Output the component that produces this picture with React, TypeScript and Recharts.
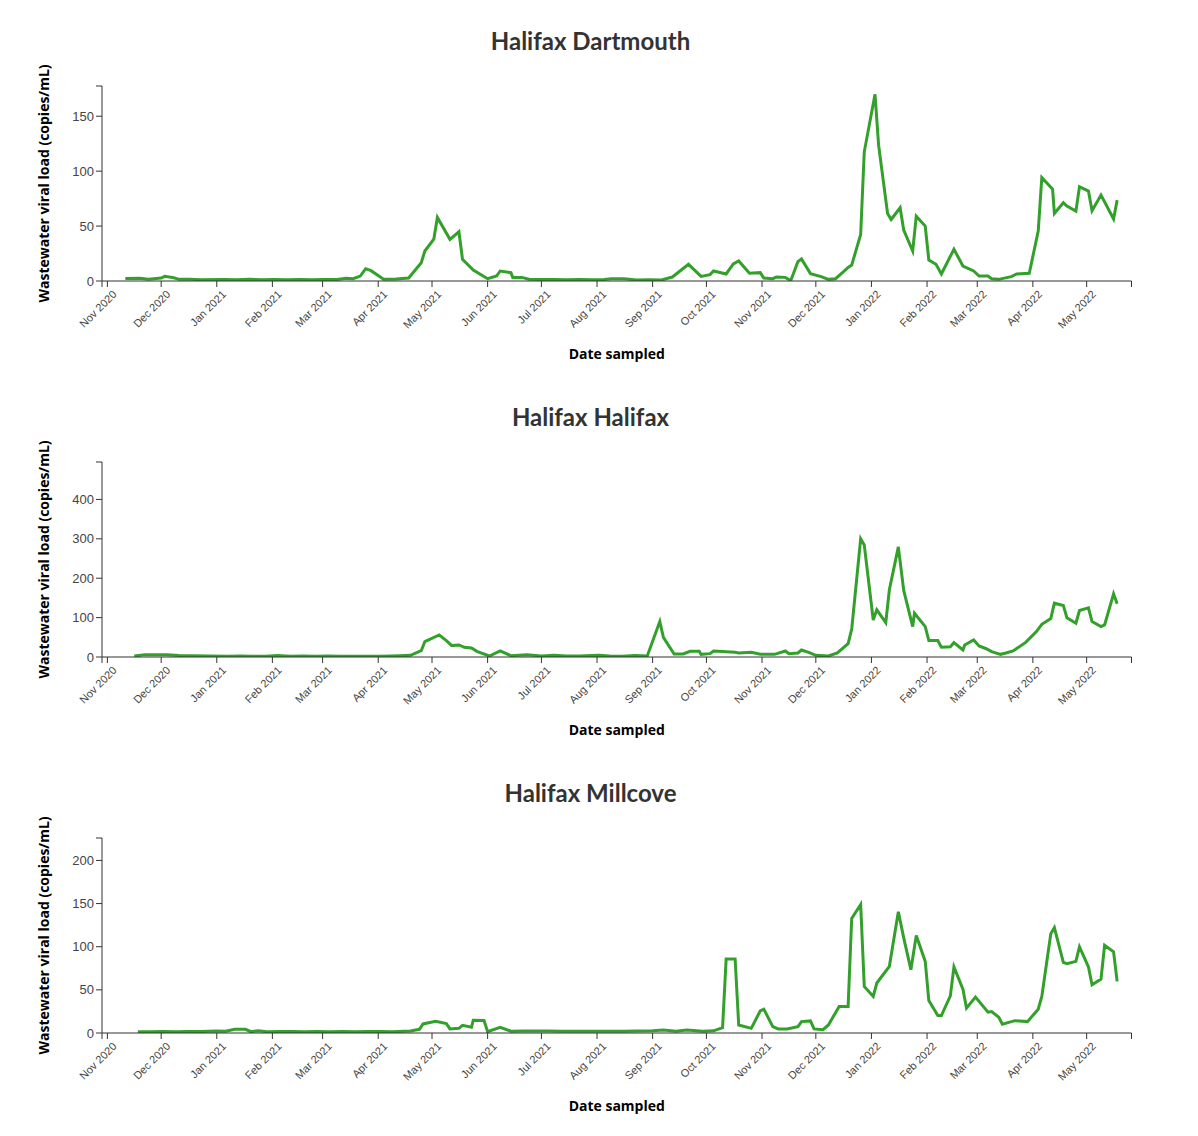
import React from 'react';
import { LineChart, Line, XAxis, YAxis } from 'recharts';

const dartmouth: [string, number][] = [
  ['2020-11-11', 2.2], ['2020-11-19', 2.4], ['2020-11-24', 1.5], ['2020-12-01', 2.7],
  ['2020-12-03', 4.2], ['2020-12-08', 3.0], ['2020-12-11', 1.5], ['2020-12-17', 1.6],
  ['2020-12-23', 1.2], ['2021-01-05', 1.3], ['2021-01-12', 1.2], ['2021-01-19', 1.5],
  ['2021-01-26', 1.2], ['2021-02-02', 1.4], ['2021-02-09', 1.1], ['2021-02-16', 1.3],
  ['2021-02-23', 1.2], ['2021-03-02', 1.4], ['2021-03-09', 1.3], ['2021-03-14', 2.4],
  ['2021-03-18', 2.1], ['2021-03-22', 4.5], ['2021-03-25', 11.2], ['2021-03-28', 9.4],
  ['2021-04-04', 1.5], ['2021-04-11', 1.8], ['2021-04-18', 2.7], ['2021-04-25', 16.7],
  ['2021-04-27', 27.3], ['2021-05-02', 38], ['2021-05-04', 57.9], ['2021-05-11', 37.9],
  ['2021-05-16', 44.8], ['2021-05-18', 19.7], ['2021-05-24', 10], ['2021-06-01', 2.1],
  ['2021-06-06', 4.5], ['2021-06-08', 9.1], ['2021-06-14', 7.6], ['2021-06-15', 3.3],
  ['2021-06-20', 3.3], ['2021-06-24', 1.6], ['2021-07-01', 1.3], ['2021-07-08', 1.4],
  ['2021-07-15', 1.2], ['2021-07-22', 1.3], ['2021-07-29', 1.2], ['2021-08-05', 1.4],
  ['2021-08-09', 2.1], ['2021-08-16', 2.1], ['2021-08-23', 1.0], ['2021-08-30', 1.2],
  ['2021-09-06', 1.0], ['2021-09-12', 3.6], ['2021-09-21', 15.2], ['2021-09-28', 4.2],
  ['2021-10-03', 5.8], ['2021-10-05', 9.1], ['2021-10-12', 6.4], ['2021-10-16', 15.5],
  ['2021-10-19', 18.2], ['2021-10-25', 7.0], ['2021-10-31', 7.6], ['2021-11-02', 2.7],
  ['2021-11-07', 2.1], ['2021-11-09', 3.6], ['2021-11-14', 3.3], ['2021-11-17', 0.3],
  ['2021-11-21', 17.6], ['2021-11-23', 20], ['2021-11-28', 6.7], ['2021-12-04', 4],
  ['2021-12-08', 1.5], ['2021-12-12', 2.1], ['2021-12-16', 7.9], ['2021-12-19', 12.4],
  ['2021-12-21', 14.5], ['2021-12-26', 42.4], ['2021-12-28', 117.6], ['2022-01-03', 170],
  ['2022-01-05', 123.6], ['2022-01-10', 61.5], ['2022-01-12', 56], ['2022-01-17', 66.7],
  ['2022-01-19', 46.4], ['2022-01-24', 27.3], ['2022-01-26', 59], ['2022-01-31', 50],
  ['2022-02-02', 19], ['2022-02-06', 15.2], ['2022-02-09', 6.4], ['2022-02-16', 29],
  ['2022-02-21', 13.6], ['2022-02-27', 9.1], ['2022-03-02', 4.5], ['2022-03-07', 4.5],
  ['2022-03-09', 2.1], ['2022-03-13', 1.5], ['2022-03-20', 4], ['2022-03-23', 6.4],
  ['2022-03-30', 7], ['2022-04-04', 45.5], ['2022-04-06', 94.2], ['2022-04-12', 83.6],
  ['2022-04-13', 61.5], ['2022-04-18', 71.2], ['2022-04-20', 68.2], ['2022-04-25', 63.6],
  ['2022-04-27', 85.8], ['2022-05-02', 81.8], ['2022-05-04', 63.9], ['2022-05-09', 78.2],
  ['2022-05-16', 56.4], ['2022-05-18', 73.6],
];

const halifax: [string, number][] = [
  ['2020-11-16', 2.5], ['2020-11-22', 6], ['2020-12-04', 6], ['2020-12-11', 4],
  ['2020-12-18', 3], ['2020-12-28', 2.5], ['2021-01-07', 2], ['2021-01-14', 2.5],
  ['2021-01-21', 2], ['2021-01-28', 2.2], ['2021-02-04', 3.5], ['2021-02-11', 2],
  ['2021-02-18', 2.5], ['2021-02-25', 2], ['2021-03-04', 2.3], ['2021-03-11', 2],
  ['2021-03-18', 2.2], ['2021-03-25', 2], ['2021-04-01', 2.2], ['2021-04-08', 2.5],
  ['2021-04-13', 3], ['2021-04-19', 4.2], ['2021-04-25', 16], ['2021-04-27', 39],
  ['2021-05-05', 56], ['2021-05-09', 41.6], ['2021-05-12', 29], ['2021-05-16', 30.6],
  ['2021-05-19', 24.6], ['2021-05-23', 23], ['2021-05-26', 14.4], ['2021-06-02', 2.5],
  ['2021-06-08', 15.3], ['2021-06-14', 3.4], ['2021-06-23', 6], ['2021-07-01', 2.5],
  ['2021-07-08', 4.2], ['2021-07-15', 2.5], ['2021-07-22', 2.5], ['2021-08-02', 4.2],
  ['2021-08-08', 2.5], ['2021-08-15', 2.2], ['2021-08-22', 4], ['2021-08-29', 2.5],
  ['2021-09-05', 90], ['2021-09-07', 50], ['2021-09-13', 7.6], ['2021-09-18', 7.6],
  ['2021-09-22', 14.4], ['2021-09-27', 14.4], ['2021-09-28', 6.8], ['2021-10-03', 8.5],
  ['2021-10-05', 15.3], ['2021-10-17', 11.9], ['2021-10-19', 10.2], ['2021-10-26', 11.9],
  ['2021-10-31', 6.8], ['2021-11-08', 6.8], ['2021-11-14', 15.3], ['2021-11-16', 8.5],
  ['2021-11-21', 10.2], ['2021-11-23', 17.8], ['2021-11-27', 11.9], ['2021-12-01', 4.2],
  ['2021-12-08', 2.5], ['2021-12-13', 10.2], ['2021-12-19', 34], ['2021-12-21', 70.5],
  ['2021-12-26', 300], ['2021-12-28', 284.5], ['2022-01-02', 94], ['2022-01-04', 119.7],
  ['2022-01-09', 87.5], ['2022-01-11', 170.7], ['2022-01-16', 279.5], ['2022-01-19', 169],
  ['2022-01-24', 77.3], ['2022-01-25', 111], ['2022-01-31', 77], ['2022-02-02', 41.6],
  ['2022-02-07', 41.6], ['2022-02-09', 24.6], ['2022-02-14', 26], ['2022-02-16', 36.5],
  ['2022-02-21', 17.8], ['2022-02-22', 30.6], ['2022-02-27', 43.3], ['2022-03-02', 28],
  ['2022-03-06', 21], ['2022-03-09', 13.6], ['2022-03-14', 6.8], ['2022-03-17', 10.2],
  ['2022-03-21', 15.3], ['2022-03-28', 37], ['2022-04-03', 64.5], ['2022-04-06', 83],
  ['2022-04-11', 97.6], ['2022-04-13', 136.6], ['2022-04-18', 130.8], ['2022-04-20', 99.4],
  ['2022-04-25', 85.8], ['2022-04-27', 118], ['2022-05-02', 124.8], ['2022-05-04', 90],
  ['2022-05-09', 77.3], ['2022-05-11', 81.5], ['2022-05-16', 160.5], ['2022-05-18', 135],
];

const millcove: [string, number][] = [
  ['2020-11-18', 1.5], ['2020-11-25', 1.5], ['2020-12-02', 1.6], ['2020-12-09', 1.5],
  ['2020-12-16', 1.7], ['2020-12-23', 1.6], ['2021-01-01', 2.3], ['2021-01-06', 2.0],
  ['2021-01-11', 4.3], ['2021-01-17', 4.3], ['2021-01-20', 1.5], ['2021-01-24', 2.7],
  ['2021-01-29', 1.5], ['2021-02-05', 1.6], ['2021-02-12', 1.8], ['2021-02-19', 1.5],
  ['2021-02-26', 1.7], ['2021-03-05', 1.5], ['2021-03-12', 1.6], ['2021-03-19', 1.5],
  ['2021-03-26', 1.7], ['2021-04-02', 1.6], ['2021-04-09', 1.5], ['2021-04-19', 2.3],
  ['2021-04-24', 4.3], ['2021-04-26', 10.5], ['2021-05-03', 13.6], ['2021-05-09', 10.9],
  ['2021-05-11', 4.7], ['2021-05-16', 5.4], ['2021-05-18', 8.9], ['2021-05-23', 6.6],
  ['2021-05-24', 14.8], ['2021-05-30', 14.4], ['2021-06-01', 1.5], ['2021-06-08', 6.6],
  ['2021-06-14', 2], ['2021-06-21', 2.2], ['2021-06-28', 2.4], ['2021-07-05', 2.2],
  ['2021-07-12', 2], ['2021-07-19', 2.1], ['2021-07-26', 2], ['2021-08-02', 2.1],
  ['2021-08-09', 2], ['2021-08-16', 2], ['2021-08-23', 2.2], ['2021-09-01', 2.7],
  ['2021-09-07', 3.5], ['2021-09-14', 2], ['2021-09-20', 3.5], ['2021-09-29', 2],
  ['2021-10-05', 2.5], ['2021-10-10', 6.2], ['2021-10-12', 85.9], ['2021-10-17', 85.9],
  ['2021-10-19', 9.3], ['2021-10-26', 5.4], ['2021-10-31', 25.6], ['2021-11-02', 27.6],
  ['2021-11-07', 7.4], ['2021-11-10', 4.7], ['2021-11-15', 4.7], ['2021-11-21', 7.4],
  ['2021-11-23', 13.2], ['2021-11-28', 14], ['2021-11-30', 4.7], ['2021-12-05', 3.9],
  ['2021-12-08', 9.3], ['2021-12-14', 30.7], ['2021-12-19', 30.7], ['2021-12-21', 132.8],
  ['2021-12-26', 149], ['2021-12-28', 54], ['2022-01-02', 42.3], ['2022-01-04', 57.9],
  ['2022-01-11', 77.3], ['2022-01-16', 140.6], ['2022-01-19', 110.3], ['2022-01-23', 73.4],
  ['2022-01-26', 113], ['2022-01-31', 83], ['2022-02-02', 37.6], ['2022-02-07', 20.2],
  ['2022-02-09', 20.2], ['2022-02-14', 43.1], ['2022-02-16', 76.5], ['2022-02-21', 50.9],
  ['2022-02-23', 28.8], ['2022-02-28', 41.6], ['2022-03-07', 24.1], ['2022-03-09', 24.9],
  ['2022-03-13', 18.3], ['2022-03-15', 10.1], ['2022-03-22', 14.3], ['2022-03-29', 13.2],
  ['2022-04-04', 27.6], ['2022-04-06', 42.3], ['2022-04-11', 115], ['2022-04-13', 122],
  ['2022-04-18', 81.9], ['2022-04-20', 80.4], ['2022-04-25', 83], ['2022-04-27', 99.8],
  ['2022-05-02', 76.5], ['2022-05-04', 55.9], ['2022-05-09', 62.5], ['2022-05-11', 101.7],
  ['2022-05-16', 94], ['2022-05-18', 59.8],
];

const monthTicks = [
  '2020-11-01', '2020-12-01', '2021-01-01', '2021-02-01', '2021-03-01', '2021-04-01',
  '2021-05-01', '2021-06-01', '2021-07-01', '2021-08-01', '2021-09-01', '2021-10-01',
  '2021-11-01', '2021-12-01', '2022-01-01', '2022-02-01', '2022-03-01', '2022-04-01',
  '2022-05-01',
];
const monthNames = ['Jan', 'Feb', 'Mar', 'Apr', 'May', 'Jun', 'Jul', 'Aug', 'Sep', 'Oct', 'Nov', 'Dec'];

const xStart = Date.parse('2020-10-29');
const xEnd = Date.parse('2022-05-26');

const GREEN = '#33a02c';
const AXIS = '#333';
const TICK_FONT = '"Liberation Sans", Arial, sans-serif';
const LABEL_FONT = '"Open Sans", sans-serif';

const fmtMonth = (t: number) => {
  const d = new Date(t);
  return `${monthNames[d.getUTCMonth()]} ${d.getUTCFullYear()}`;
};

function XTick(props: any) {
  const { x, y, payload } = props;
  if (payload.value === xStart || payload.value === xEnd) return <g />;
  const ax = x + 10;
  const ay = y + 6;
  return (
    <text x={ax} y={ay} transform={`rotate(-45 ${ax} ${ay})`} textAnchor='end'
      fontSize={11} fill='#444' fontFamily={TICK_FONT}>
      {fmtMonth(payload.value)}
    </text>
  );
}

function YTick(props: any) {
  const { x, y, payload, top } = props;
  if (payload.value === top) return <g />;
  return (
    <text x={x} y={y} dy='0.355em' textAnchor='end' fontSize={13} fill='#444' fontFamily={TICK_FONT}>
      {payload.value}
    </text>
  );
}

function YTitle(props: any) {
  const vb = props.viewBox || {};
  const x = vb.x + 6.5;
  const y = vb.y + vb.height / 2;
  return (
    <text x={x} y={y} transform={`rotate(-90 ${x} ${y})`} textAnchor='middle'
      fontSize={14} fontWeight={700} fill='#000' fontFamily={LABEL_FONT}>
      Wastewater viral load (copies/mL)
    </text>
  );
}

function XTitle(props: any) {
  const vb = props.viewBox || {};
  return (
    <text x={vb.x + vb.width / 2} y={vb.y + 78} textAnchor='middle'
      fontSize={14} fontWeight={700} fill='#000' fontFamily={LABEL_FONT}>
      Date sampled
    </text>
  );
}

function SitePanel({ title, series, yTop, yTicks }: {
  title: string; series: [string, number][]; yTop: number; yTicks: number[];
}) {
  const data = series.map(([d, v]) => ({ t: Date.parse(d), v }));
  const xTicks = [xStart, ...monthTicks.map((m) => Date.parse(m)), xEnd];
  return (
    <div style={{ position: 'relative', width: 1165, height: 376 }}>
      <div style={{
        position: 'absolute', top: 21, left: 0, width: 1165, textAlign: 'center',
        fontFamily: 'Lato, sans-serif', fontWeight: 700, fontSize: 24, lineHeight: '24px', color: '#333',
      }}>
        {title}
      </div>
      <LineChart width={1165} height={376} data={data}
        margin={{ top: 78, right: 41.5, bottom: 13, left: 34 }}>
        <XAxis dataKey='t' type='number' domain={[xStart, xEnd]} ticks={xTicks} interval={0}
          allowDataOverflow height={90} stroke={AXIS} tickLine={{ stroke: AXIS }}
          tick={<XTick />} label={<XTitle />} />
        <YAxis type='number' domain={[0, yTop]} ticks={[...yTicks, yTop]} interval={0}
          allowDataOverflow width={60} stroke={AXIS} tickLine={{ stroke: AXIS }}
          tick={<YTick top={yTop} />} label={<YTitle />} />
        <Line type='linear' dataKey='v' stroke={GREEN} strokeWidth={3} dot={false}
          isAnimationActive={false} />
      </LineChart>
    </div>
  );
}

export default function App() {
  return (
    <div style={{ width: 1165 }}>
      <SitePanel title='Halifax Dartmouth' series={dartmouth} yTop={177.5} yTicks={[0, 50, 100, 150]} />
      <SitePanel title='Halifax Halifax' series={halifax} yTop={495} yTicks={[0, 100, 200, 300, 400]} />
      <SitePanel title='Halifax Millcove' series={millcove} yTop={226} yTicks={[0, 50, 100, 150, 200]} />
    </div>
  );
}
